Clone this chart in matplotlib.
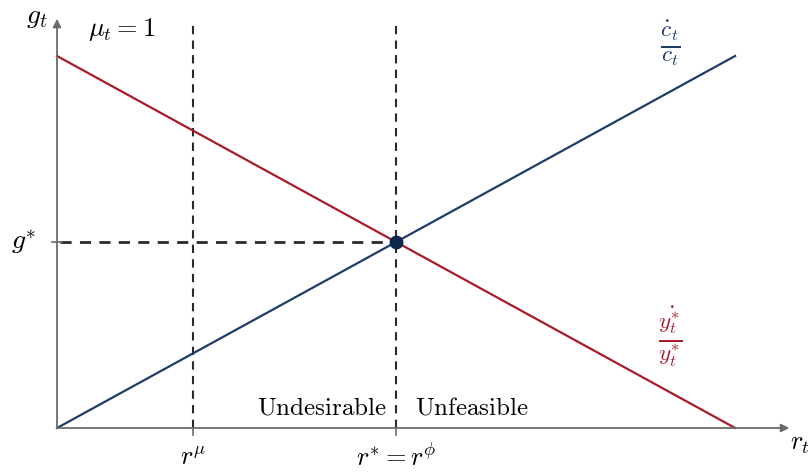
import numpy as np
import matplotlib.pyplot as plt

plt.rcParams['mathtext.fontset'] = 'cm'
plt.rcParams['font.family'] = 'DejaVu Serif'

# model values (arbitrary units)
r_grid = [0, 10]
consumption_growth = [0, 10]   # c_dot / c
output_growth = [10, 0]        # y*_dot / y*
r_mu = 2
r_star = 5
g_star = 5
x_end = 10.8
y_end = 11.0

red = '#a81b2c'
blue = '#1e3c6a'
axis_grey = '#6b6b6b'
dash_col = '#2a2a2a'

fig = plt.figure(figsize=(8.09, 4.72), dpi=100)
ax = fig.add_axes([0, 0, 1, 1])
ax.set_xlim(-0.841, 11.09)
ax.set_ylim(-1.183, 11.505)
ax.axis('off')

# axes with arrows
ax.annotate('', xy=(x_end, 0), xytext=(0, 0),
            arrowprops=dict(arrowstyle='-|>', color=axis_grey, lw=1.3,
                            mutation_scale=12, shrinkA=0, shrinkB=0))
ax.annotate('', xy=(0, y_end), xytext=(0, 0),
            arrowprops=dict(arrowstyle='-|>', color=axis_grey, lw=1.3,
                            mutation_scale=12, shrinkA=0, shrinkB=0))

# dashed guides
ax.plot([r_mu, r_mu], [0, 10.85], ls=(0, (4, 3)), color=dash_col, lw=1.5)
ax.plot([r_star, r_star], [0, 10.85], ls=(0, (4, 3)), color=dash_col, lw=1.5)
ax.plot([0.05, r_star], [g_star, g_star], ls=(0, (4, 3)), color=dash_col, lw=2)

# tick marks
ax.plot([-0.08, 0.08], [g_star, g_star], color=axis_grey, lw=1.2)
for xv in [r_mu, r_star]:
    ax.plot([xv, xv], [0, -0.2], color=axis_grey, lw=1.2)

# curves
ax.plot(r_grid, output_growth, color=red, lw=1.6)
ax.plot(r_grid, consumption_growth, color=blue, lw=1.6)
ax.plot([r_star], [g_star], 'o', color='#0f2748', ms=9, zorder=5)

fs = 18
mfs = 19
ax.text(-0.3, 11.05, r'$g_t$', fontsize=mfs + 1, ha='center', va='center')
ax.text(0.45, 10.7, r'$\mu_t = 1$', fontsize=mfs, ha='left', va='center')
ax.text(-0.3, g_star, r'$g^{*}$', fontsize=mfs + 1, ha='right', va='center')
ax.text(9.04, 10.35, r'$\frac{\dot{c}_t}{c_t}$', fontsize=mfs + 5, color=blue,
        ha='center', va='center')
ax.text(9.04, 2.45, r'$\frac{\dot{y_t^{*}}}{y_t^{*}}$', fontsize=mfs + 5, color=red,
        ha='center', va='center')
ax.text(r_mu, -0.78, r'$r^{\mu}$', fontsize=mfs, ha='center', va='center')
ax.text(r_star, -0.78, r'$r^{*} = r^{\phi}$', fontsize=mfs, ha='center', va='center')
ax.text(10.95, -0.42, r'$r_t$', fontsize=mfs, ha='center', va='center')
ax.text(r_star - 0.13, 0.55, r'$\mathrm{Undesirable}$', fontsize=fs,
        ha='right', va='center')
ax.text(r_star + 0.28, 0.55, r'$\mathrm{Unfeasible}$', fontsize=fs,
        ha='left', va='center')

fig.savefig('out.png', dpi=100)
